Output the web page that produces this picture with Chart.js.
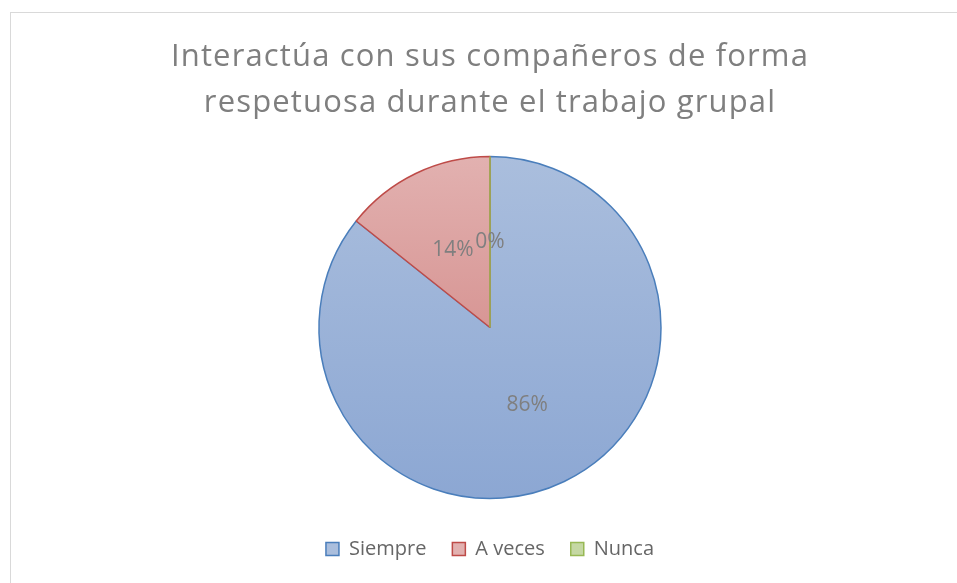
<!DOCTYPE html>
<html>
<head>
<meta charset="utf-8">
<script src="https://cdn.jsdelivr.net/npm/chart.js@4.4.0/dist/chart.umd.min.js"></script>
<style>
  html, body { margin: 0; padding: 0; background: #ffffff; }
  #wrap { position: relative; width: 957px; height: 583px; }
</style>
</head>
<body>
<div id="wrap"><canvas id="c" width="957" height="583"></canvas></div>
<script>
const titleLines = ['Interactúa con sus compañeros de forma', 'respetuosa durante el trabajo grupal'];
const categories = ['Siempre', 'A veces', 'Nunca'];
const values = [85.7, 14.3, 0];

const FONT = 'Open Sans';
const RADIUS = 171;
const topColors = ['#aabedd', '#e2b1b0', '#c5d8a3'];
const bottomColors = ['#8ca7d3', '#cd7b79', '#a9c46f'];
const borderColors = ['#4a7ebb', '#be4b48', '#98b954'];

function fillFor(ctx) {
  const chart = ctx.chart;
  const i = ctx.dataIndex;
  const area = chart.chartArea;
  if (!area) return topColors[i];
  const cy = (area.top + area.bottom) / 2;
  const g = chart.ctx.createLinearGradient(0, cy - RADIUS, 0, cy + RADIUS);
  g.addColorStop(0, topColors[i]);
  g.addColorStop(1, bottomColors[i]);
  return g;
}

const frame = {
  id: 'frame',
  beforeDraw(chart) {
    const c = chart.ctx;
    c.save();
    c.strokeStyle = '#d9d9d9';
    c.lineWidth = 1;
    c.strokeRect(10.5, 12.5, 1000, 1000);
    c.restore();
    const tb = chart.titleBlock;
    if (tb && !tb._spaced) {
      const orig = tb.draw.bind(tb);
      tb.draw = function () {
        const prev = chart.ctx.letterSpacing;
        chart.ctx.letterSpacing = '1.15px';
        orig();
        chart.ctx.letterSpacing = prev || '0px';
      };
      tb._spaced = true;
    }
  }
};

const labelsPlugin = {
  id: 'sliceLabels',
  afterDatasetsDraw(chart) {
    const c = chart.ctx;
    const meta = chart.getDatasetMeta(0);
    const data = chart.data.datasets[0].data;
    const total = data.reduce((a, b) => a + b, 0);
    c.save();
    meta.data.forEach((arc, i) => {
      if (data[i] === 0) {
        c.strokeStyle = borderColors[i];
        c.lineWidth = 1.5;
        c.beginPath();
        c.moveTo(arc.x, arc.y);
        c.lineTo(arc.x + Math.cos(arc.startAngle) * arc.outerRadius, arc.y + Math.sin(arc.startAngle) * arc.outerRadius);
        c.stroke();
      }
    });
    c.font = '21px "' + FONT + '"';
    c.fillStyle = '#7f7f7f';
    c.textAlign = 'center';
    c.textBaseline = 'middle';
    meta.data.forEach((arc, i) => {
      const p = arc.tooltipPosition();
      c.fillText(Math.round(data[i] / total * 100) + '%', p.x, p.y);
    });
    c.restore();
  }
};

new Chart(document.getElementById('c'), {
  type: 'pie',
  data: {
    labels: categories,
    datasets: [{
      data: values,
      backgroundColor: fillFor,
      borderColor: borderColors,
      borderWidth: 1.5
    }]
  },
  options: {
    responsive: false,
    animation: false,
    radius: RADIUS,
    layout: { padding: { left: 23, right: 0, top: 0, bottom: 14 } },
    plugins: {
      tooltip: { enabled: false },
      title: {
        display: true,
        text: titleLines,
        color: '#7f7f7f',
        font: { family: FONT, size: 31, weight: 'normal', lineHeight: 46 / 31 },
        padding: { top: 34, bottom: 16 }
      },
      legend: {
        position: 'bottom',
        labels: {
          color: '#666666',
          font: { family: FONT, size: 20 },
          boxWidth: 13,
          boxHeight: 13,
          padding: 26,
          generateLabels(chart) {
            return categories.map((t, i) => ({
              text: t,
              fillStyle: topColors[i],
              strokeStyle: borderColors[i],
              lineWidth: 1.5,
              fontColor: '#666666',
              index: i,
              hidden: false
            }));
          }
        }
      }
    }
  },
  plugins: [frame, labelsPlugin]
});
</script>
</body>
</html>
